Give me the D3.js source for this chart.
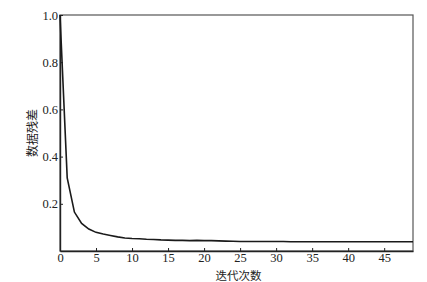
<!DOCTYPE html>
<html>
<head>
<meta charset="utf-8">
<script src="https://cdn.jsdelivr.net/npm/d3@7"></script>
<style>
  body { margin: 0; background: #fff; }
  .num { font-family: "Liberation Serif", "Times New Roman", "DejaVu Serif", serif; }
  .cjk { font-family: "Noto Sans CJK SC", sans-serif; }
</style>
</head>
<body>
<svg id="chart" width="427" height="282"></svg>
<script>
// iterations and residuals
var iterations = d3.range(0, 50);
var residuals = [1.0, 0.31, 0.165, 0.117, 0.093, 0.079, 0.072, 0.066, 0.060, 0.055,
  0.053, 0.052, 0.050, 0.049, 0.047, 0.046, 0.045, 0.045, 0.044, 0.045,
  0.044, 0.044, 0.043, 0.042, 0.041, 0.040, 0.040, 0.040, 0.040, 0.040,
  0.040, 0.040, 0.039, 0.039, 0.039, 0.039, 0.039, 0.039, 0.039, 0.039,
  0.039, 0.039, 0.039, 0.039, 0.039, 0.039, 0.039, 0.039, 0.039, 0.039];
var xTicks = [0, 5, 10, 15, 20, 25, 30, 35, 40, 45];
var yTicks = [0.2, 0.4, 0.6, 0.8, 1.0];

var svg = d3.select("#chart");
var m = { left: 60, right: 14, top: 15, bottom: 31 };
var w = 427 - m.left - m.right, h = 282 - m.top - m.bottom;

var x = d3.scaleLinear().domain([0, 49]).range([m.left, m.left + w]);
var y = d3.scaleLinear().domain([0, 1]).range([m.top + h, m.top]);

// frame
svg.append("rect")
  .attr("x", m.left).attr("y", m.top)
  .attr("width", w).attr("height", h)
  .attr("fill", "none").attr("stroke", "#555").attr("stroke-width", 1.2);

var xAxis = svg.append("g")
  .attr("transform", "translate(0," + (m.top + h) + ")")
  .call(d3.axisBottom(x).tickValues(xTicks).tickSizeInner(-3).tickSizeOuter(0).tickPadding(2));
var yAxis = svg.append("g")
  .attr("transform", "translate(" + m.left + ",0)")
  .call(d3.axisLeft(y).tickValues(yTicks).tickFormat(d3.format(".1f")).tickSizeInner(-3).tickSizeOuter(0).tickPadding(2));

[xAxis, yAxis].forEach(function(a) {
  a.attr("font-family", null);
  a.select(".domain").attr("stroke", "#222").attr("stroke-width", 1.4);
  a.selectAll(".tick line").attr("stroke", "#222");
  a.selectAll("text").attr("class", "num").attr("font-size", 12.5).attr("fill", "#222");
});

var line = d3.line()
  .x(function(d, i) { return x(iterations[i]); })
  .y(function(d) { return y(d); });

svg.append("path")
  .datum(residuals)
  .attr("fill", "none")
  .attr("stroke", "#1a1a1a")
  .attr("stroke-width", 1.6)
  .attr("d", line);

svg.append("text")
  .attr("class", "cjk")
  .attr("x", m.left + w / 2 + 2).attr("y", 280)
  .attr("text-anchor", "middle")
  .attr("font-size", 11.5).attr("fill", "#222")
  .text("迭代次数");

svg.append("text")
  .attr("class", "cjk")
  .attr("transform", "translate(37,133) rotate(-90)")
  .attr("text-anchor", "middle")
  .attr("font-size", 12).attr("fill", "#222")
  .text("数据残差");
</script>
</body>
</html>
